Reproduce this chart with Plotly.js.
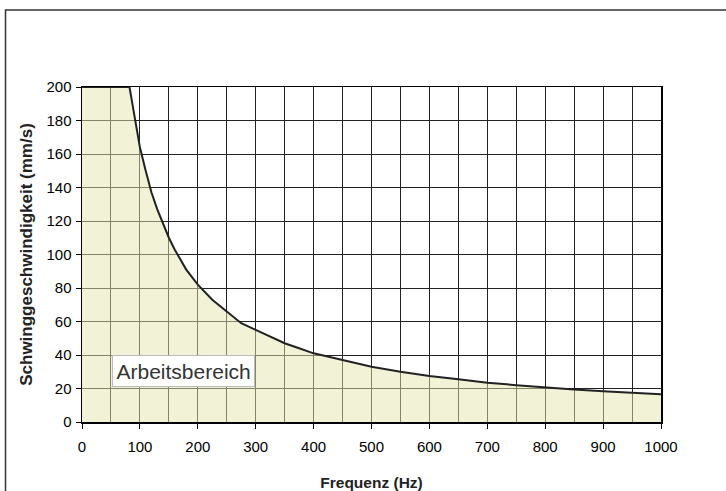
<!DOCTYPE html>
<html>
<head>
<meta charset="utf-8">
<script src="https://cdn.plot.ly/plotly-3.0.1.min.js"></script>
<style>html,body{margin:0;padding:0;background:#fff;}#chart{width:726px;height:491px;}</style>
</head>
<body>
<div id="chart"></div>
<script>
// Frequency (Hz) and allowed vibration velocity (mm/s)
const frequency = [0, 82, 86, 90, 95, 100, 110, 120, 130, 140, 150, 160, 180, 200, 225, 250, 275, 300, 325, 350, 375, 400, 450, 500, 550, 600, 650, 700, 750, 800, 850, 900, 950, 1000];
const velocity  = [200, 200, 192, 184, 174, 164, 150, 137, 127, 118, 110, 103, 91, 82, 73, 66, 59, 55, 51, 47, 44, 41, 37, 33, 30, 27.5, 25.5, 23.5, 22, 20.5, 19.4, 18.3, 17.4, 16.5];
const xTicks = [0, 100, 200, 300, 400, 500, 600, 700, 800, 900, 1000];
const yTicks = [0, 20, 40, 60, 80, 100, 120, 140, 160, 180, 200];
const xTitle = 'Frequenz (Hz)';
const yTitle = 'Schwinggeschwindigkeit (mm/s)';
const areaLabel = 'Arbeitsbereich';

const font = 'Liberation Sans, Arial, sans-serif';

const trace = {
  x: frequency, y: velocity, type: 'scatter', mode: 'lines',
  line: {color: '#222', width: 2},
  fill: 'tozeroy', fillcolor: 'rgba(229,229,173,0.5)',
  hoverinfo: 'skip', showlegend: false
};

const layout = {
  width: 726, height: 491,
  margin: {l: 82, r: 65, t: 87, b: 69},
  paper_bgcolor: '#fff', plot_bgcolor: '#fff',
  font: {family: font, size: 15, color: '#000'},
  showlegend: false,
  xaxis: {
    range: [0, 1000], tickvals: xTicks, ticktext: xTicks.map(String),
    ticks: 'outside', ticklen: 5, tickcolor: '#000', tickwidth: 1,
    ticklabelstandoff: 5,
    showgrid: true, gridcolor: '#222', gridwidth: 1,
    minor: {dtick: 50, tick0: 0, showgrid: true, gridcolor: '#222', gridwidth: 1, ticks: ''},
    showline: true, linecolor: '#000', linewidth: 1.5, mirror: true,
    zeroline: false, fixedrange: true,
    tickfont: {size: 15, color: '#000'},
    title: {text: xTitle, font: {size: 15.5, color: '#222', family: font, weight: 'bold'}, standoff: 23}
  },
  yaxis: {
    range: [0, 200], tickvals: yTicks, ticktext: yTicks.map(String),
    ticks: 'outside', ticklen: 5, tickcolor: '#000', tickwidth: 1,
    ticklabelstandoff: 1,
    showgrid: true, gridcolor: '#222', gridwidth: 1,
    showline: true, linecolor: '#000', linewidth: 1.5, mirror: true,
    zeroline: false, fixedrange: true,
    tickfont: {size: 15, color: '#000'},
    title: {text: yTitle, font: {size: 17, color: '#222', family: font, weight: 'bold'}, standoff: 9}
  },
  annotations: [{
    x: 175.5, y: 30.2, xref: 'x', yref: 'y', text: areaLabel, showarrow: false,
    font: {size: 21, color: '#333', family: font},
    bgcolor: '#fff', bordercolor: '#bbb', borderwidth: 1, borderpad: 3.5
  }],
  shapes: [{
    type: 'rect', xref: 'paper', yref: 'paper',
    x0: -0.1321, x1: 1.3, y0: -0.3, y1: 1.2299,
    line: {color: '#333', width: 1.5}, fillcolor: 'rgba(0,0,0,0)', layer: 'above'
  }]
};

Plotly.newPlot('chart', [trace], layout, {staticPlot: true, displayModeBar: false});
</script>
</body>
</html>
